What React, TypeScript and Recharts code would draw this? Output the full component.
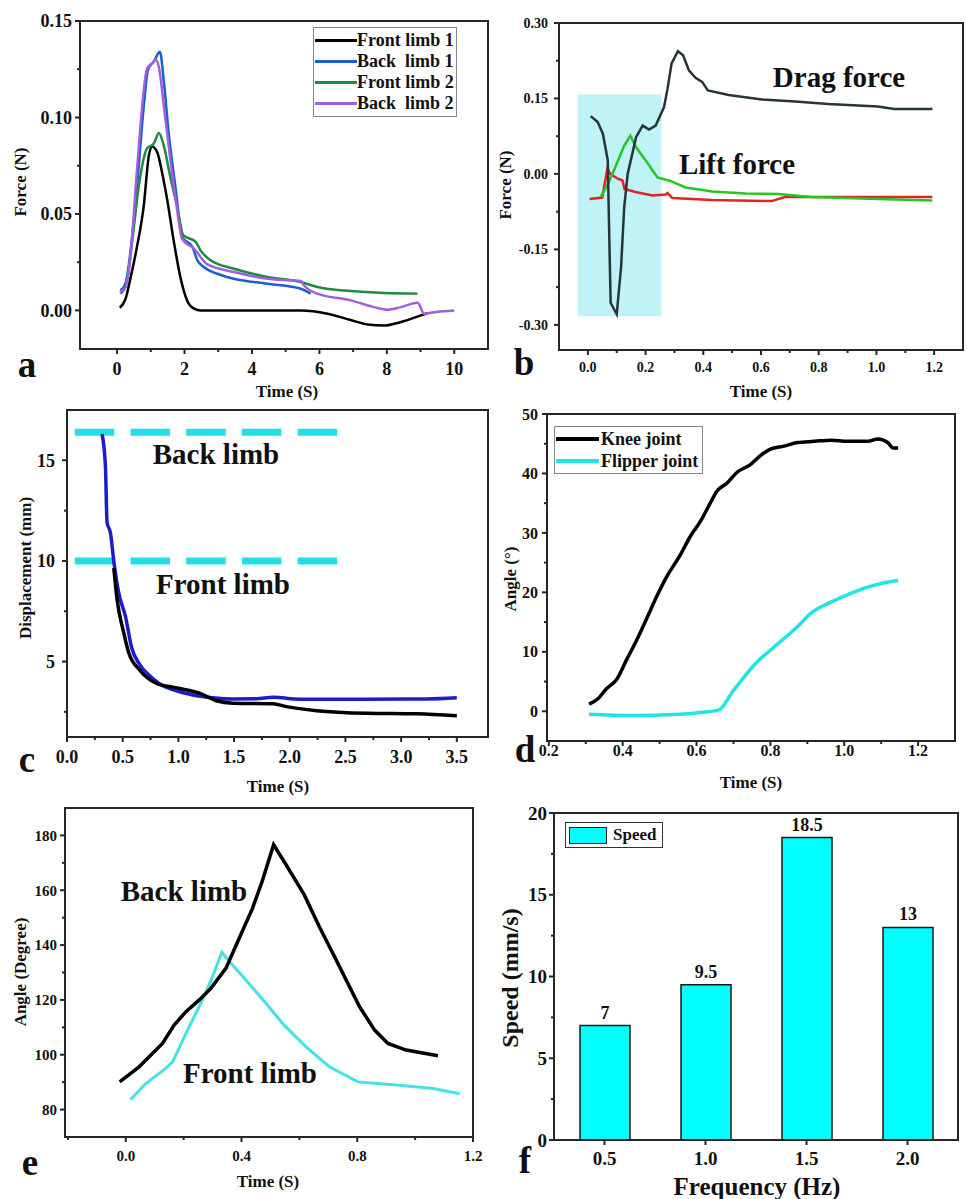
import React from "react";
import { LineChart, Line, XAxis, YAxis, ReferenceArea, BarChart, Bar, LabelList, Legend } from "recharts";

const FONT = '"Liberation Serif", "Times New Roman", Times, serif';
const INK = "#262626";

type Pt = [number, number];

// ---- panel a: limb forces
const aFrontLimb1: Pt[] = [[0.08, 0.0014], [0.25, 0.006], [0.4, 0.017], [0.59, 0.033], [0.79, 0.054], [0.94, 0.08], [1.04, 0.085], [1.19, 0.082], [1.34, 0.071], [1.49, 0.057], [1.68, 0.036], [1.88, 0.017], [2.08, 0.005], [2.28, 0.0009], [2.48, 0], [5.45, 0], [6.24, -0.0017], [6.93, -0.005], [7.43, -0.0073], [7.92, -0.0078], [8.42, -0.006], [9.01, -0.0026], [9.2, -0.0015]];
const aBackLimb1: Pt[] = [[0.1, 0.0104], [0.25, 0.014], [0.4, 0.031], [0.59, 0.064], [0.79, 0.1055], [0.92, 0.125], [1.09, 0.129], [1.27, 0.134], [1.39, 0.118], [1.53, 0.092], [1.73, 0.064], [1.93, 0.038], [2.23, 0.033], [2.38, 0.026], [2.57, 0.0225], [2.97, 0.019], [3.47, 0.0164], [4.46, 0.0138], [5.45, 0.0112], [5.74, 0.0087]];
const aFrontLimb2: Pt[] = [[0.1, 0.0087], [0.28, 0.014], [0.45, 0.036], [0.64, 0.064], [0.89, 0.084], [1.09, 0.0865], [1.24, 0.092], [1.39, 0.085], [1.58, 0.069], [1.78, 0.054], [1.96, 0.039], [2.33, 0.0355], [2.48, 0.031], [2.77, 0.026], [3.47, 0.0216], [4.46, 0.0173], [5.45, 0.0147], [5.94, 0.0121], [6.93, 0.01], [7.92, 0.009], [8.91, 0.0087]];
const aBackLimb2: Pt[] = [[0.08, 0.0095], [0.25, 0.012], [0.4, 0.029], [0.59, 0.0727], [0.89, 0.1254], [1.04, 0.128], [1.14, 0.13], [1.24, 0.126], [1.39, 0.1055], [1.58, 0.078], [1.78, 0.052], [1.93, 0.037], [2.28, 0.032], [2.67, 0.024], [3.47, 0.0199], [4.46, 0.0164], [5.45, 0.0152], [5.54, 0.013], [5.94, 0.0087], [6.93, 0.0052], [7.62, 0.0017], [8.02, 0.0003], [8.42, 0.0017], [8.91, 0.004], [9.11, -0.0017], [9.41, -0.0009], [10.0, 0]];
const aXMajor = [0, 2, 4, 6, 8, 10];
const aXMinor = [1, 3, 5, 7, 9];
const aYMajor = [0, 0.05, 0.1, 0.15];
const aYMinor = [0.025, 0.075, 0.125];

// ---- panel b: drag / lift
const bDrag: Pt[] = [[0.01, 0.115], [0.034, 0.103], [0.052, 0.08], [0.069, 0.027], [0.074, -0.12], [0.079, -0.256], [0.1, -0.279], [0.115, -0.186], [0.126, -0.066], [0.138, 0.0], [0.167, 0.073], [0.19, 0.096], [0.212, 0.088], [0.235, 0.096], [0.264, 0.133], [0.276, 0.169], [0.29, 0.219], [0.312, 0.244], [0.33, 0.236], [0.35, 0.206], [0.373, 0.191], [0.396, 0.183], [0.416, 0.166], [0.488, 0.157], [0.603, 0.148], [0.718, 0.144], [0.833, 0.139], [1.005, 0.134], [1.062, 0.129], [1.194, 0.129]];
const bLiftGreen: Pt[] = [[0.045, -0.045], [0.07, -0.02], [0.1, 0.02], [0.125, 0.055], [0.147, 0.076], [0.167, 0.053], [0.2, 0.027], [0.241, -0.007], [0.281, -0.013], [0.339, -0.027], [0.431, -0.035], [0.546, -0.039], [0.66, -0.04], [0.775, -0.046], [1.005, -0.05], [1.194, -0.053]];
const bLiftRed: Pt[] = [[0.006, -0.05], [0.05, -0.047], [0.068, 0.011], [0.077, 0.0], [0.102, -0.009], [0.12, -0.013], [0.127, -0.03], [0.165, -0.036], [0.224, -0.043], [0.27, -0.041], [0.276, -0.038], [0.293, -0.048], [0.431, -0.052], [0.637, -0.054], [0.683, -0.046], [0.775, -0.046], [1.194, -0.046]];
const bXMajor = [0, 0.2, 0.4, 0.6, 0.8, 1.0, 1.2];
const bXMinor = [0.1, 0.3, 0.5, 0.7, 0.9, 1.1];
const bYMajor = [-0.3, -0.15, 0, 0.15, 0.3];
const bYMinor = [-0.225, -0.075, 0.075, 0.225];

// ---- panel c: displacement
const cBackLimb: Pt[] = [[0.315, 16.3], [0.345, 14.7], [0.36, 11.9], [0.39, 11.4], [0.42, 10.0], [0.465, 8.4], [0.525, 7.24], [0.58, 5.7], [0.65, 4.87], [0.74, 4.3], [0.83, 3.9], [0.95, 3.6], [1.13, 3.34], [1.31, 3.2], [1.49, 3.14], [1.7, 3.15], [1.85, 3.22], [2.09, 3.13], [2.69, 3.13], [3.23, 3.14], [3.5, 3.2]];
const cFrontLimb: Pt[] = [[0.42, 9.65], [0.45, 8.07], [0.51, 6.42], [0.555, 5.42], [0.65, 4.59], [0.8, 3.92], [0.95, 3.73], [1.1, 3.56], [1.19, 3.43], [1.34, 3.05], [1.49, 2.93], [1.85, 2.9], [1.97, 2.76], [2.24, 2.56], [2.69, 2.43], [3.14, 2.4], [3.5, 2.3]];
const cBackLevel: Pt[] = [[0.07, 16.4], [2.44, 16.4]];
const cFrontLevel: Pt[] = [[0.07, 10], [2.44, 10]];
const cXMajor = [0, 0.5, 1.0, 1.5, 2.0, 2.5, 3.0, 3.5];
const cXMinor = [0.25, 0.75, 1.25, 1.75, 2.25, 2.75, 3.25];
const cYMajor = [5, 10, 15];
const cYMinor = [2.5, 7.5, 12.5];

// ---- panel d: joint angles
const dKnee: Pt[] = [[0.309, 1.2], [0.333, 2.1], [0.356, 3.8], [0.383, 5.3], [0.41, 8.6], [0.438, 12.0], [0.465, 15.6], [0.492, 19.3], [0.519, 22.6], [0.556, 26.3], [0.583, 29.4], [0.61, 31.9], [0.637, 35], [0.655, 37], [0.683, 38.4], [0.71, 40.2], [0.746, 41.5], [0.773, 43], [0.8, 44.1], [0.837, 44.6], [0.873, 45.2], [0.919, 45.4], [0.964, 45.6], [1.009, 45.4], [1.064, 45.4], [1.091, 45.8], [1.118, 45.2], [1.132, 44.3], [1.146, 44.3]];
const dFlipper: Pt[] = [[0.309, -0.5], [0.42, -0.7], [0.556, -0.5], [0.61, -0.2], [0.66, 0.2], [0.7, 3.5], [0.764, 8.3], [0.81, 10.8], [0.873, 14.2], [0.91, 16.5], [0.955, 18.1], [1.009, 19.6], [1.055, 20.7], [1.1, 21.5], [1.146, 22.0]];
const dXMajor = [0.2, 0.4, 0.6, 0.8, 1.0, 1.2];
const dXMinor = [0.3, 0.5, 0.7, 0.9, 1.1];
const dYMajor = [0, 10, 20, 30, 40, 50];
const dYMinor = [5, 15, 25, 35, 45];

// ---- panel e: limb angles
const eBackLimb: Pt[] = [[-0.021, 90.1], [0.046, 95.6], [0.127, 104.1], [0.167, 110.8], [0.208, 115.7], [0.254, 120], [0.294, 124.2], [0.346, 131.5], [0.392, 142.5], [0.438, 153.4], [0.473, 163.8], [0.511, 176.6], [0.554, 169.3], [0.617, 158.3], [0.669, 146.7], [0.727, 134.6], [0.808, 117.5], [0.86, 109], [0.906, 104.1], [0.969, 101.7], [1.079, 99.6]];
const eFrontLimb: Pt[] = [[0.017, 83.7], [0.069, 89.5], [0.138, 95], [0.162, 97.4], [0.208, 107.8], [0.265, 120], [0.3, 128.5], [0.332, 137.4], [0.358, 134], [0.415, 127.3], [0.485, 118.7], [0.542, 111.4], [0.623, 102.9], [0.704, 95.6], [0.802, 90.1], [0.946, 88.9], [1.062, 87.7], [1.154, 85.8]];
const eXMajor = [0, 0.4, 0.8, 1.2];
const eXMinor = [-0.2, 0.2, 0.6, 1.0];
const eYMajor = [80, 100, 120, 140, 160, 180];
const eYMinor = [90, 110, 130, 150, 170];

// ---- panel f: speed
const fFrequency = ["0.5", "1.0", "1.5", "2.0"];
const fSpeed = [7, 9.5, 18.5, 13];
const fYMajor = [0, 5, 10, 15, 20];
const fYMinor = [2.5, 7.5, 12.5, 17.5];

const rows = (pts: Pt[]) => pts.map(([x, y]) => ({ x, y }));

// plot boxes in page pixels: left, top, right, bottom
const PAD_L = 70, PAD_T = 12, PAD_R = 14, PAD_B = 40;
const M = { top: PAD_T, right: PAD_R, left: 0, bottom: 0 };
const place = (b: number[]) => ({
    style: { position: "absolute" as const, left: b[0] - PAD_L, top: b[1] - PAD_T },
    width: b[2] - b[0] + PAD_L + PAD_R,
    height: b[3] - b[1] + PAD_T + PAD_B,
});

const isIn = (list: number[] | null, v: any) => list === null || list.some((m) => Math.abs(m - v) < 1e-9);

function bottomTick(majors: number[] | null, fmt: (v: any) => string, size: number, offset: number) {
    return (p: any) => {
        const major = isIn(majors, p.payload.value);
        return (
            <g>
                <rect x={p.x - 1} y={p.y} width={2} height={major ? 5 : 3} fill={INK} />
                {major && (
                    <text x={p.x} y={p.y + offset} textAnchor="middle" fontFamily={FONT} fontWeight="bold" fontSize={size} fill="#111">
                        {fmt(p.payload.value)}
                    </text>
                )}
            </g>
        );
    };
}

function leftTick(majors: number[], fmt: (v: any) => string, size: number, gap: number) {
    return (p: any) => {
        const major = isIn(majors, p.payload.value);
        return (
            <g>
                <rect x={p.x - (major ? 5 : 3)} y={p.y - 1} width={major ? 5 : 3} height={2} fill={INK} />
                {major && (
                    <text x={p.x - gap} y={p.y} dy="0.35em" textAnchor="end" fontFamily={FONT} fontWeight="bold" fontSize={size} fill="#111">
                        {fmt(p.payload.value)}
                    </text>
                )}
            </g>
        );
    };
}

const AXIS_LINE = { stroke: INK, strokeWidth: 2 };
const axisBase = { axisLine: AXIS_LINE, tickLine: false, tickSize: 0, tickMargin: 0, interval: 0 as const };
const lineBase = { dataKey: "y", dot: false, activeDot: false, isAnimationActive: false };

const A_BOX = [80, 21, 488, 349];
const B_BOX = [559, 23, 963, 350];
const C_BOX = [67, 410, 488, 737];
const D_BOX = [547, 414, 955, 741];
const E_BOX = [65, 808, 473, 1137];
const F_BOX = [554, 813, 958, 1140];
const BOXES = [A_BOX, B_BOX, C_BOX, D_BOX, E_BOX, F_BOX];

const aSeries = [
    { name: "Front limb 1", color: "#000000", pts: aFrontLimb1 },
    { name: "Back  limb 1", color: "#1a5fd0", pts: aBackLimb1 },
    { name: "Front limb 2", color: "#1d8c3e", pts: aFrontLimb2 },
    { name: "Back  limb 2", color: "#a25ee0", pts: aBackLimb2 },
];

const legendText = { fontFamily: FONT, fontWeight: "bold" as const, color: "#111" };

function PanelA() {
    const p = place(A_BOX);
    const xd = [-1.1, 11], yd = [-0.02, 0.15];
    return (
        <div style={p.style}>
            <LineChart width={p.width} height={p.height} margin={M}>
                <XAxis type="number" dataKey="x" domain={xd} allowDataOverflow ticks={[...aXMajor, ...aXMinor]} height={PAD_B} {...axisBase} tick={bottomTick(aXMajor, (v) => String(v), 18, 26)} />
                <YAxis type="number" domain={yd} allowDataOverflow ticks={[...aYMajor, ...aYMinor]} width={PAD_L} {...axisBase} tick={leftTick(aYMajor, (v) => v.toFixed(2), 18, 8)} />
                {aSeries.map((s) => (
                    <Line key={s.name} {...lineBase} data={rows(s.pts)} type="monotone" stroke={s.color} strokeWidth={2.5} />
                ))}
                <Legend
                    layout="vertical"
                    align="center"
                    verticalAlign="middle"
                    wrapperStyle={{ left: 303, top: 18, width: "auto" }}
                    content={() => (
                        <div style={{ border: "1.5px solid #888", background: "#fff", padding: "2px 2px 2px 1px", ...legendText, fontSize: 18, lineHeight: "21px" }}>
                            {aSeries.map((s) => (
                                <div key={s.name} style={{ display: "flex", alignItems: "center", whiteSpace: "pre" }}>
                                    <span style={{ display: "inline-block", width: 42, height: 3, background: s.color }} />
                                    {s.name}
                                </div>
                            ))}
                        </div>
                    )}
                />
            </LineChart>
        </div>
    );
}

function PanelB() {
    const p = place(B_BOX);
    const xd = [-0.1, 1.3], yd = [-0.35, 0.3];
    return (
        <div style={p.style}>
            <LineChart width={p.width} height={p.height} margin={M}>
                <XAxis type="number" dataKey="x" domain={xd} allowDataOverflow ticks={[...bXMajor, ...bXMinor]} height={PAD_B} {...axisBase} tick={bottomTick(bXMajor, (v) => v.toFixed(1), 14, 22)} />
                <YAxis type="number" domain={yd} allowDataOverflow ticks={[...bYMajor, ...bYMinor]} width={PAD_L} {...axisBase} tick={leftTick(bYMajor, (v) => v.toFixed(2), 14, 11)} />
                <ReferenceArea x1={-0.035} x2={0.255} y1={-0.283} y2={0.158} fill="#bff3f7" fillOpacity={1} stroke="none" />
                <Line {...lineBase} data={rows(bLiftRed)} type="linear" stroke="#e52222" strokeWidth={2.5} />
                <Line {...lineBase} data={rows(bLiftGreen)} type="linear" stroke="#22c922" strokeWidth={2.5} />
                <Line {...lineBase} data={rows(bDrag)} type="linear" stroke="#27343a" strokeWidth={2.5} />
            </LineChart>
        </div>
    );
}

function PanelC() {
    const p = place(C_BOX);
    const xd = [0, 3.78], yd = [1.25, 17.5];
    return (
        <div style={p.style}>
            <LineChart width={p.width} height={p.height} margin={M}>
                <XAxis type="number" dataKey="x" domain={xd} allowDataOverflow ticks={[...cXMajor, ...cXMinor]} height={PAD_B} {...axisBase} tick={bottomTick(cXMajor, (v) => v.toFixed(1), 18, 26)} />
                <YAxis type="number" domain={yd} allowDataOverflow ticks={[...cYMajor, ...cYMinor]} width={PAD_L} {...axisBase} tick={leftTick(cYMajor, (v) => String(v), 18, 12)} />
                <Line {...lineBase} data={rows(cBackLevel)} type="linear" stroke="#22dfe6" strokeWidth={7} strokeDasharray="39.5 16.2" />
                <Line {...lineBase} data={rows(cFrontLevel)} type="linear" stroke="#22dfe6" strokeWidth={7} strokeDasharray="39.5 16.2" />
                <Line {...lineBase} data={rows(cBackLimb)} type="monotone" stroke="#1c1cc8" strokeWidth={3.5} />
                <Line {...lineBase} data={rows(cFrontLimb)} type="monotone" stroke="#000000" strokeWidth={3.5} />
            </LineChart>
        </div>
    );
}

const dSeries = [
    { name: "Knee joint", color: "#000000", pts: dKnee },
    { name: "Flipper joint", color: "#22e3e6", pts: dFlipper },
];

function PanelD() {
    const p = place(D_BOX);
    const xd = [0.195, 1.3], yd = [-5, 50];
    return (
        <div style={p.style}>
            <LineChart width={p.width} height={p.height} margin={M}>
                <XAxis type="number" dataKey="x" domain={xd} allowDataOverflow ticks={[...dXMajor, ...dXMinor]} height={PAD_B} {...axisBase} tick={bottomTick(dXMajor, (v) => v.toFixed(1), 16, 15)} />
                <YAxis type="number" domain={yd} allowDataOverflow ticks={[...dYMajor, ...dYMinor]} width={PAD_L} {...axisBase} tick={leftTick(dYMajor, (v) => String(v), 16, 9)} />
                {dSeries.map((s) => (
                    <Line key={s.name} {...lineBase} data={rows(s.pts)} type="monotone" stroke={s.color} strokeWidth={3.5} />
                ))}
                <Legend
                    layout="vertical"
                    align="center"
                    verticalAlign="middle"
                    wrapperStyle={{ left: 77, top: 24, width: "auto" }}
                    content={() => (
                        <div style={{ border: "1.5px solid #888", background: "#fff", padding: "1px 4px 1px 1px", ...legendText, fontSize: 18, lineHeight: "22px" }}>
                            {dSeries.map((s) => (
                                <div key={s.name} style={{ display: "flex", alignItems: "center", whiteSpace: "pre" }}>
                                    <span style={{ display: "inline-block", width: 43, height: 4, marginRight: 2, background: s.color }} />
                                    {s.name}
                                </div>
                            ))}
                        </div>
                    )}
                />
            </LineChart>
        </div>
    );
}

function PanelE() {
    const p = place(E_BOX);
    const xd = [-0.21, 1.2], yd = [70, 190];
    return (
        <div style={p.style}>
            <LineChart width={p.width} height={p.height} margin={M}>
                <XAxis type="number" dataKey="x" domain={xd} allowDataOverflow ticks={[...eXMajor, ...eXMinor]} height={PAD_B} {...axisBase} tick={bottomTick(eXMajor, (v) => v.toFixed(1), 15, 24)} />
                <YAxis type="number" domain={yd} allowDataOverflow ticks={[...eYMajor, ...eYMinor]} width={PAD_L} {...axisBase} tick={leftTick(eYMajor, (v) => String(v), 15, 8)} />
                <Line {...lineBase} data={rows(eFrontLimb)} type="linear" stroke="#44e2e4" strokeWidth={3} />
                <Line {...lineBase} data={rows(eBackLimb)} type="linear" stroke="#000000" strokeWidth={3.5} />
            </LineChart>
        </div>
    );
}

const fData = fFrequency.map((f, i) => ({ freq: f, speed: fSpeed[i] }));

function PanelF() {
    const p = place(F_BOX);
    return (
        <div style={p.style}>
            <BarChart width={p.width} height={p.height} margin={M} data={fData}>
                <XAxis type="category" dataKey="freq" height={PAD_B} {...axisBase} tick={bottomTick(null, (v) => String(v), 19, 25)} />
                <YAxis type="number" domain={[0, 20]} allowDataOverflow ticks={[...fYMajor, ...fYMinor]} width={PAD_L} {...axisBase} tick={leftTick(fYMajor, (v) => String(v), 19, 7)} />
                <Bar dataKey="speed" barSize={50} fill="#00ffff" stroke="#1a1a1a" strokeWidth={1.5} isAnimationActive={false}>
                    <LabelList dataKey="speed" position="top" offset={7} fontFamily={FONT} fontWeight="bold" fontSize={18} fill="#111" />
                </Bar>
                <Legend
                    layout="vertical"
                    align="center"
                    verticalAlign="middle"
                    wrapperStyle={{ left: 81, top: 21, width: "auto" }}
                    content={() => (
                        <div style={{ border: "1.5px solid #333", background: "#fff", padding: "3px 6px 3px 3px", ...legendText, fontSize: 17, lineHeight: "18px", display: "flex", alignItems: "center" }}>
                            <span style={{ display: "inline-block", width: 36, height: 15, background: "#00ffff", border: "1.5px solid #222", marginRight: 6 }} />
                            Speed
                        </div>
                    )}
                />
            </BarChart>
        </div>
    );
}

// text laid over the figure: axis titles, panel letters, annotations
const T = (x: number, y: number, s: string, size: number, rot = false) =>
    rot ? (
        <text key={s + x + y} transform={`translate(${x},${y}) rotate(-90)`} textAnchor="middle" fontSize={size}>
            {s}
        </text>
    ) : (
        <text key={s + x + y} x={x} y={y} textAnchor="middle" fontSize={size}>
            {s}
        </text>
    );

export default function App() {
    return (
        <div style={{ position: "absolute", left: 0, top: 0, width: 967, height: 1199, background: "#fff", overflow: "hidden" }}>
            <PanelA />
            <PanelB />
            <PanelC />
            <PanelD />
            <PanelE />
            <PanelF />
            <svg width={967} height={1199} style={{ position: "absolute", left: 0, top: 0, pointerEvents: "none" }} fontFamily={FONT} fontWeight="bold" fill="#111">
                {/* plot frames */}
                {BOXES.map((b, i) => (
                    <rect key={i} x={b[0]} y={b[1]} width={b[2] - b[0]} height={b[3] - b[1]} fill="none" stroke={INK} strokeWidth={2} />
                ))}
                {/* axis titles */}
                {T(287, 397, "Time (S)", 17)}
                {T(26, 182, "Force (N)", 17, true)}
                {T(761, 397, "Time (S)", 17)}
                {T(511, 185, "Force (N)", 17, true)}
                {T(278, 792, "Time (S)", 17)}
                {T(31, 568, "Displacement (mm)", 17, true)}
                {T(751, 788, "Time (S)", 17)}
                {T(516, 579, "Angle (°)", 17, true)}
                {T(268, 1187, "Time (S)", 17)}
                {T(26, 972, "Angle (Degree)", 17, true)}
                {T(757, 1195, "Frequency (Hz)", 25)}
                {T(518, 978, "Speed (mm/s)", 24, true)}
                {/* annotations */}
                {T(839, 87, "Drag force", 29)}
                {T(737, 174, "Lift force", 29)}
                {T(216, 464, "Back limb", 29)}
                {T(223, 594, "Front limb", 29)}
                {T(184, 901, "Back limb", 29)}
                {T(250, 1083, "Front limb", 29)}
                {/* panel letters */}
                {T(27, 377, "a", 37)}
                {T(524, 375, "b", 37)}
                {T(27, 772, "c", 37)}
                {T(525, 762, "d", 37)}
                {T(30, 1175, "e", 37)}
                {T(525, 1173, "f", 37)}
            </svg>
        </div>
    );
}
